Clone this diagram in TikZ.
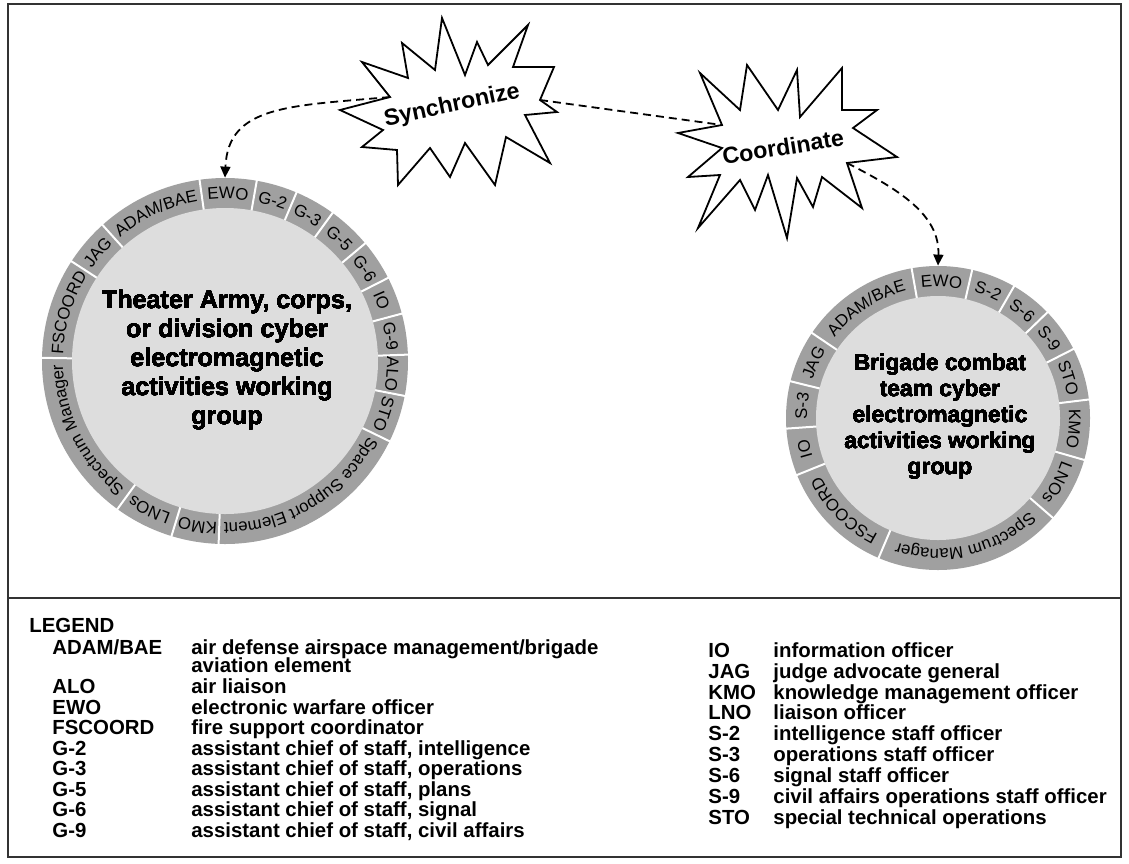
\documentclass[tikz,border=0pt]{standalone}
\usepackage{fontspec}
\setmainfont{Liberation Sans}
\usetikzlibrary{arrows.meta,decorations.text}
\definecolor{ringgray}{RGB}{160,160,160}
\definecolor{coregray}{RGB}{221,221,221}
\tikzset{
  ring/.style={circle,fill=ringgray,inner sep=0pt},
  core/.style={circle,fill=coregray,inner sep=0pt},
  sep/.style={white,line width=1pt},
  burst/.style={draw,fill=white,line width=0.9pt,line join=miter},
  bursttext/.style={font=\fontsize{11.6}{13}\selectfont\bfseries,inner sep=0pt},
  hubtext/.style={align=center,inner sep=0pt},
  link/.style={dash pattern=on 4pt off 2.5pt,line width=0.9pt},
  flow/.style={link,-{Triangle[length=5.5pt,width=5pt]}},
  frame/.style={draw=black!80,line width=1pt},
  entry/.style={anchor=base west,inner sep=0pt,font=\fontsize{10.2}{10.3}\selectfont\bfseries},
}
\newcommand{\ringfont}{\fontsize{8.4}{10}\selectfont}
% label on a ring segment: centre, baseline radius, bearing, text
\newcommand{\seglabel}[4]{%
  \path[decorate,decoration={text along path,text align=center,text={|\ringfont|#4}}]
    (#1) ++(150-#3:#2) arc[start angle=150-#3,end angle=30-#3,radius=#2];}

\begin{document}
\begin{tikzpicture}[x=0.5pt,y=0.5pt]
  \useasboundingbox (0,0) rectangle (1129,-863);
  \draw[frame] (8,-4) rectangle (1121,-857);
  \draw[frame] (8,-598) -- (1121,-598);

  % theater army / corps / division group
  \node[ring,minimum size=183pt] (lc) at (225,-361) {};
  \foreach \b in {-8,10,23,36,50,63,75,88,101,116,182,197,216,271,303,318}
    \draw[sep] (lc.center) ++(90-\b:150) -- ++(90-\b:36);
  \node[core,minimum size=153pt] (lccore) at (lc.center) {};
  \foreach \m/\t in {335/{ADAM/BAE},1/EWO,16.5/G-2,29.5/G-3,43/G-5,56.5/G-6,69/IO,81.5/G-9,
                     94.5/ALO,108.5/STO,149/Space Support Element,189.5/KMO,207/LNOs,
                     243.5/Spectrum Manager,287/FSCOORD,310.5/JAG}
    \seglabel{lc.center}{162}{\m}{\t}
  \node[hubtext,font=\fontsize{12.6}{14.5}\selectfont\bfseries] (lctext) at (227,-360)
    {Theater Army, corps,\\or division cyber\\electromagnetic\\activities working\\group};

  % brigade combat team group
  \node[ring,minimum size=152pt] (rc) at (938,-418) {};
  \foreach \b in {-10,13,30,46,63,83,106,131,203,248,266,284,304}
    \draw[sep] (rc.center) ++(90-\b:119) -- ++(90-\b:36);
  \node[core,minimum size=122pt] (rccore) at (rc.center) {};
  \foreach \m/\t in {327/{ADAM/BAE},1.5/EWO,21.5/S-2,38/S-6,54.5/S-9,73/STO,94.5/KMO,
                     118.5/LNOs,167/Spectrum Manager,225.5/FSCOORD,257/IO,275/S-3,294/JAG}
    \seglabel{rc.center}{131}{\m}{\t}
  \node[hubtext,font=\fontsize{11.4}{13}\selectfont\bfseries] (rctext) at (940,-417)
    {Brigade combat\\team cyber\\electromagnetic\\activities working\\group};

  % bursts
  \draw[burst] (340,-110) -- (390,-97) coordinate (syncW) -- (362,-62) -- (408,-78)
    -- (402,-43) -- (435,-70) -- (442,-18) -- (465,-75) -- (477,-42) -- (488,-65)
    -- (528,-25) -- (513,-67) -- (554,-67) -- (540,-100) coordinate (syncE)
    -- (557,-112) -- (525,-115) -- (550,-163) -- (506,-137) -- (495,-185)
    -- (465,-143) -- (450,-177) -- (430,-148) -- (398,-185) -- (397,-150)
    -- (362,-147) -- (383,-130) -- cycle;
  \node[bursttext,rotate=12] (sync) at (452,-106) {Synchronize};
  \draw[burst] (678,-133) -- (722,-125) coordinate (coordW) -- (700,-73) -- (740,-110)
    -- (747,-65) -- (778,-110) -- (797,-70) -- (800,-117) -- (842,-68) -- (842,-110)
    -- (877,-110) -- (853,-128) -- (897,-157) -- (847,-163) coordinate (coordE)
    -- (862,-208) -- (822,-177) -- (813,-207) -- (797,-178) -- (787,-238)
    -- (768,-175) -- (755,-210) -- (740,-180) -- (698,-228) -- (720,-175)
    -- (688,-177) -- (722,-148) -- cycle;
  \node[bursttext,rotate=9] (coord) at (783,-147) {Coordinate};

  \draw[flow] (syncW) .. controls (290,-106) and (228,-105) .. (lc.north);
  \draw[link] (syncE) -- (coordW);
  \draw[flow] (coordE) .. controls (900,-190) and (940,-215) .. (rc.north);

  % legend
  \node[entry] (legend) at (29,-632) {LEGEND};
  \foreach \ab/\txt/\y [count=\i] in {
      {ADAM/BAE}/{air defense airspace management/brigade}/647,
      {}/{aviation element}/665,
      {ALO}/{air liaison}/686,
      {EWO}/{electronic warfare officer}/707,
      {FSCOORD}/{fire support coordinator}/727,
      {G-2}/{assistant chief of staff, intelligence}/748,
      {G-3}/{assistant chief of staff, operations}/768,
      {G-5}/{assistant chief of staff, plans}/789,
      {G-6}/{assistant chief of staff, signal}/809,
      {G-9}/{assistant chief of staff, civil affairs}/830}{
    \node[entry] (la\i) at (52,-\y-7) {\ab};
    \node[entry] (ld\i) at (191,-\y-7) {\txt};
  }
  \foreach \ab/\txt/\y [count=\i] in {
      {IO}/{information officer}/650,
      {JAG}/{judge advocate general}/671,
      {KMO}/{knowledge management officer}/692,
      {LNO}/{liaison officer}/712,
      {S-2}/{intelligence staff officer}/733,
      {S-3}/{operations staff officer}/754,
      {S-6}/{signal staff officer}/775,
      {S-9}/{civil affairs operations staff officer}/796,
      {STO}/{special technical operations}/817}{
    \node[entry] (ra\i) at (708,-\y-7) {\ab};
    \node[entry] (rd\i) at (773,-\y-7) {\txt};
  }
\end{tikzpicture}
\end{document}
